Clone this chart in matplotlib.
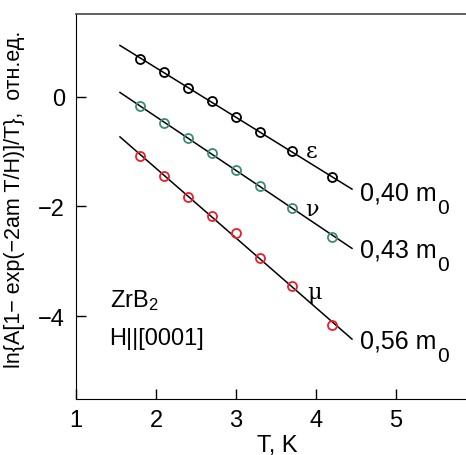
import numpy as np
import matplotlib
matplotlib.use("Agg")
import matplotlib.pyplot as plt

plt.rcParams["font.family"] = ["Liberation Sans", "DejaVu Sans"]
plt.rcParams["mathtext.fontset"] = "custom"
plt.rcParams["mathtext.rm"] = "Liberation Sans"
plt.rcParams["mathtext.it"] = "Liberation Sans"

# temperatures, K
T = [1.8, 2.1, 2.4, 2.7, 3.0, 3.3, 3.7, 4.2]

# ln{...} values for the three orbits
eps = [0.69, 0.44, 0.16, -0.09, -0.38, -0.65, -1.00, -1.47]
nu = [-0.18, -0.49, -0.76, -1.02, -1.33, -1.62, -2.02, -2.55]
mu = [-1.09, -1.45, -1.82, -2.18, -2.49, -2.93, -3.45, -4.16]

names = ["\u03b5", "\u03bd", "\u03bc"]
masses = ["0,40", "0,43", "0,56"]
colors = ["black", "#3d8a78", "#e8202a"]

fig = plt.figure(figsize=(4.66, 4.56), dpi=100)
ax = fig.add_axes([0.163, 0.123, 0.837, 0.844])

tt = np.linspace(1.55, 4.45, 10)
series = [eps, nu, mu]
name_pos = [(3.95, -1.0), (3.95, -2.05), (3.98, -3.55)]
mass_y = [-1.87, -2.91, -4.56]

for s, c, n, m, npos, my in zip(series, colors, names, masses, name_pos, mass_y):
    k, b = np.polyfit(T, s, 1)
    ax.plot(tt, k * tt + b, color="black", lw=1.1, zorder=2)
    ax.plot(T, s, "o", mfc="none", mec=c, mew=1.3, ms=6.5, zorder=3)
    ax.text(npos[0], npos[1], n, fontsize=16, family="DejaVu Serif",
            ha="center", va="center")
    t = ax.text(4.55, my, m + " m", fontsize=18, ha="left", va="baseline")
    # subscript 0, a bit larger than mathtext would make it
    ax.annotate("0", xy=(1, 0), xycoords=t, xytext=(0.5, -6),
                textcoords="offset points", fontsize=15, ha="left", va="baseline")

ax.text(1.42, -3.82, r"ZrB$_2$", fontsize=17, ha="left", va="baseline")
ax.text(1.42, -4.51, "H||[0001]", fontsize=17, ha="left", va="baseline")

ax.set_xlim(1, 5.875)
ax.set_ylim(-5.5, 1.5)
ax.set_xticks([1, 2, 3, 4, 5])
ax.set_yticks([-4, -2, 0])
ax.set_yticklabels(["\u22124", "\u22122", "0"])
ax.tick_params(direction="in", length=7, width=1, labelsize=17)
ax.tick_params(axis="x", pad=7)
ax.tick_params(axis="y", pad=8)
ax.spines["right"].set_visible(False)
ax.spines["top"].set_color("#555555")
ax.spines["top"].set_linewidth(1.3)

ax.set_xlabel("T, K", fontsize=17)
ax.xaxis.set_label_coords(0.515, -0.09)
ax.set_ylabel("ln{A[1\u2212 exp(\u22122am T/H)]/T},  отн.ед.", fontsize=15.5)
ax.yaxis.set_label_coords(-0.13, 0.52)

fig.savefig("out.png", dpi=100)
